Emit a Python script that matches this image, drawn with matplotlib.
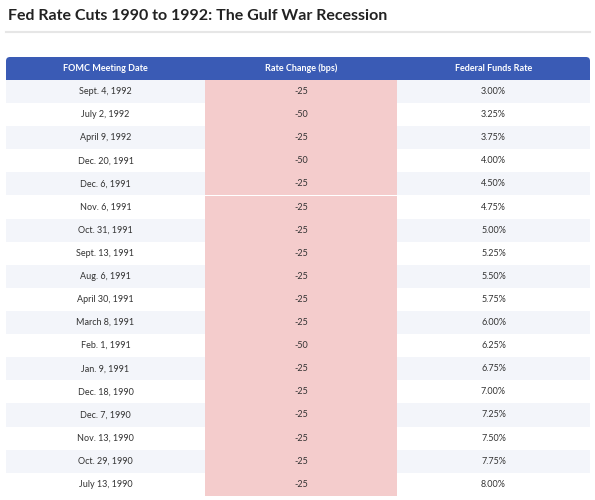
import matplotlib.pyplot as plt
from matplotlib.patches import Rectangle, FancyBboxPatch

dates = ["Sept. 4, 1992", "July 2, 1992", "April 9, 1992", "Dec. 20, 1991", "Dec. 6, 1991",
         "Nov. 6, 1991", "Oct. 31, 1991", "Sept. 13, 1991", "Aug. 6, 1991", "April 30, 1991",
         "March 8, 1991", "Feb. 1, 1991", "Jan. 9, 1991", "Dec. 18, 1990", "Dec. 7, 1990",
         "Nov. 13, 1990", "Oct. 29, 1990", "July 13, 1990"]
changes = [-25, -50, -25, -50, -25, -25, -25, -25, -25, -25, -25, -50, -25, -25, -25, -25, -25, -25]
rates = [3.00, 3.25, 3.75, 4.00, 4.50, 4.75, 5.00, 5.25, 5.50, 5.75, 6.00, 6.25, 6.75, 7.00, 7.25, 7.50, 7.75, 8.00]
headers = ["FOMC Meeting Date", "Rate Change (bps)", "Federal Funds Rate"]

W, H = 595, 500
fig = plt.figure(figsize=(W / 100, H / 100), dpi=100)
ax = fig.add_axes([0, 0, 1, 1])
ax.set_xlim(0, W)
ax.set_ylim(H, 0)
ax.axis("off")

font = "Lato"
ax.text(8, 16, "Fed Rate Cuts 1990 to 1992: The Gulf War Recession", fontsize=11.5,
        fontweight="bold", family=font, color="#222222", va="center")
ax.plot([6, 590], [32, 32], color="#e6e6e6", lw=1.5)

cols = [6, 205, 397, 590]
top, hh, rh = 57, 23, 23.1
ax.add_patch(FancyBboxPatch((cols[0], top), cols[3] - cols[0], hh, boxstyle="round,pad=0,rounding_size=4",
                            fc="#3a5bb5", ec="none"))
ax.add_patch(Rectangle((cols[0], top + 8), cols[3] - cols[0], hh - 8, fc="#3a5bb5", ec="none"))
for i, h in enumerate(headers):
    ax.text((cols[i] + cols[i + 1]) / 2, top + hh / 2, h, color="white", fontsize=6.5,
            fontweight="bold", family=font, ha="center", va="center")

for r in range(len(dates)):
    y0 = top + hh + r * rh
    if r % 2 == 0:
        ax.add_patch(Rectangle((cols[0], y0), cols[3] - cols[0], rh, fc="#f3f5fa", ec="none"))
    ax.add_patch(Rectangle((cols[1], y0), cols[2] - cols[1], rh, fc="#f4cccc", ec="none"))
    vals = [dates[r], f"{changes[r]}", f"{rates[r]:.2f}%"]
    for i, v in enumerate(vals):
        ax.text((cols[i] + cols[i + 1]) / 2, y0 + rh / 2, v, fontsize=6.5, family=font,
                color="#333333", ha="center", va="center")

fig.savefig("out.png", dpi=100)
